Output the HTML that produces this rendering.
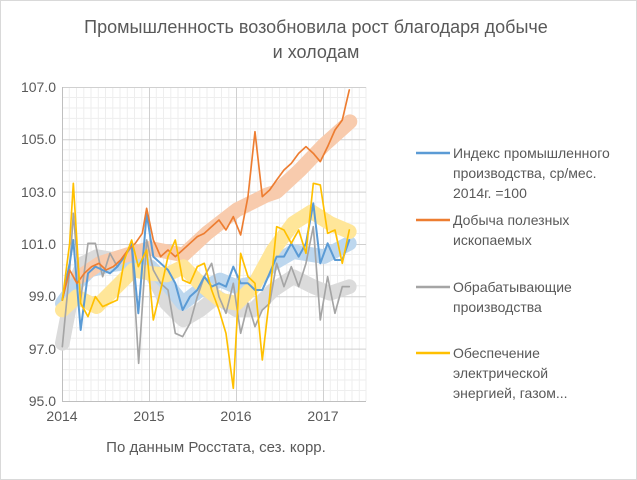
<!DOCTYPE html>
<html><head><meta charset="utf-8"><style>
body{margin:0;background:#fff;}
svg{display:block;font-family:"Liberation Sans","DejaVu Sans",sans-serif;}
</style></head><body>
<svg width="637" height="480" viewBox="0 0 637 480" xmlns="http://www.w3.org/2000/svg">
<rect x="0.5" y="0.5" width="636" height="479" fill="#fff" stroke="#d9d9d9"/>
<text x="316" y="33" font-size="18" fill="#595959" text-anchor="middle">Промышленность возобновила рост благодаря добыче</text>
<text x="316" y="58" font-size="18" fill="#595959" text-anchor="middle">и холодам</text>
<g id="grid" stroke="#eeeeee" stroke-width="1">
<path d="M69.3 87V401M76.5 87V401M83.8 87V401M91 87V401M98.3 87V401M105.5 87V401M112.8 87V401M120 87V401M127.3 87V401M134.5 87V401M141.8 87V401M156.3 87V401M163.5 87V401M170.8 87V401M178 87V401M185.3 87V401M192.5 87V401M199.8 87V401M207 87V401M214.3 87V401M221.5 87V401M228.8 87V401M243.3 87V401M250.5 87V401M257.8 87V401M265 87V401M272.3 87V401M279.5 87V401M286.8 87V401M294 87V401M301.3 87V401M308.5 87V401M315.8 87V401M330.3 87V401M337.5 87V401M344.8 87V401M352 87V401M359.3 87V401M366 87V401"/>
<path d="M62 97.5H366M62 108H366M62 118.4H366M62 128.9H366M62 149.8H366M62 160.3H366M62 170.8H366M62 181.2H366M62 202.1H366M62 212.6H366M62 223.1H366M62 233.5H366M62 254.5H366M62 264.9H366M62 275.4H366M62 285.8H366M62 306.8H366M62 317.2H366M62 327.7H366M62 338.2H366M62 359.1H366M62 369.6H366M62 380H366M62 390.5H366"/>
</g>
<g stroke="#d0d0d0" stroke-width="1">
<path d="M62 87.5H366M62 139.8H366M62 192.1H366M62 244.5H366M62 296.8H366M62 349.1H366"/>
<path d="M149.5 87V401M236.5 87V401M323.5 87V401"/>
</g>
<path d="M62.5 87V401M62 401.5H366" stroke="#bfbfbf" stroke-width="1"/>
<g font-size="14" fill="#595959" text-anchor="end">
<text x="56" y="92">107.0</text><text x="56" y="144">105.0</text><text x="56" y="197">103.0</text>
<text x="56" y="249">101.0</text><text x="56" y="301">99.0</text><text x="56" y="354">97.0</text><text x="56" y="406">95.0</text>
</g>
<g font-size="14" fill="#595959" text-anchor="middle">
<text x="62" y="421">2014</text><text x="149" y="421">2015</text><text x="236" y="421">2016</text><text x="323" y="421">2017</text>
</g>
<text x="216" y="452" font-size="15" fill="#595959" text-anchor="middle">По данным Росстата, сез. корр.</text>
<g transform="translate(0,70) scale(0.3333)" fill="none" stroke-linejoin="round" stroke-linecap="round">
<polyline stroke="#DBDBDB" stroke-width="44" points="187,820 220,650 250,580 290,560 350,570 420,560 460,620 500,700 550,750 600,720 650,680 710,720 760,720 820,660 880,620 940,650 990,670 1048,650"/>
<polyline stroke="#BDD7EE" stroke-width="44" points="187,700 230,640 270,600 330,585 400,575 450,590 500,640 548,700 600,660 660,630 710,650 760,640 820,580 880,545 972,560 1048,520"/>
<polyline stroke="#F8CBAD" stroke-width="44" points="240,620 300,580 380,555 450,535 550,555 620,490 710,420 800,375 830,365 900,300 972,225 1050,155"/>
<polyline stroke="#FFE699" stroke-width="44" points="187,720 230,680 290,710 350,650 400,600 450,610 500,615 550,590 600,640 660,690 710,700 760,650 820,540 880,460 935,425 990,460 1048,485"/>
<polyline stroke="#A5A5A5" stroke-width="5" points="187,830 209,600 220,430 242,690 264,520 286,520 308,620 330,550 352,590 373,560 395,530 416,880 440,510 460,600 482,640 504,660 526,790 548,800 570,760 592,680 613,620 635,580 657,680 678,730 700,640 722,790 744,700 765,770 787,720 809,700 830,580 852,650 874,590 896,650 918,580 940,470 961,750 983,620 1005,730 1027,650 1048,650"/>
<polyline stroke="#5B9BD5" stroke-width="6" points="187,690 209,580 220,510 242,780 264,610 286,590 308,600 330,610 352,590 373,560 395,520 415,730 440,430 460,560 482,580 504,600 526,640 548,720 570,680 592,660 613,620 635,650 657,640 678,650 700,590 722,640 744,640 765,660 787,660 809,610 830,560 852,560 874,520 896,560 918,520 940,400 961,580 983,520 1005,570 1027,570 1048,510"/>
<polyline stroke="#ED7D31" stroke-width="5" points="187,690 209,600 231,640 253,610 275,590 297,580 318,600 340,590 362,570 384,540 406,520 427,490 440,415 460,510 482,560 504,540 526,560 548,540 570,520 592,500 613,490 635,470 657,450 678,480 700,440 722,495 744,380 765,185 787,380 809,360 830,330 852,300 874,280 896,250 918,230 940,250 961,275 983,230 1005,180 1027,150 1048,60"/>
<polyline stroke="#FFC000" stroke-width="5" points="187,690 209,520 220,340 242,700 264,740 286,680 308,710 330,700 352,690 373,570 395,510 415,590 440,540 460,750 482,660 504,560 526,510 548,630 570,640 592,590 613,580 635,660 657,720 678,790 700,955 722,550 744,620 765,640 787,870 809,680 830,470 852,480 874,520 896,480 918,550 940,340 961,345 983,490 1005,480 1027,580 1048,480"/>
</g>
<g stroke-width="2.5">
<path d="M416 153H450" stroke="#5B9BD5"/><path d="M416 220H450" stroke="#ED7D31"/>
<path d="M416 287H450" stroke="#A5A5A5"/><path d="M416 353H450" stroke="#FFC000"/>
</g>
<g font-size="14" fill="#595959">
<text x="453" y="158">Индекс промышленного</text><text x="453" y="178">производства, ср/мес.</text><text x="453" y="198">2014г. =100</text>
<text x="453" y="225">Добыча полезных</text><text x="453" y="245">ископаемых</text>
<text x="453" y="292">Обрабатывающие</text><text x="453" y="312">производства</text>
<text x="453" y="358">Обеспечение</text><text x="453" y="378">электрической</text><text x="453" y="398">энергией, газом...</text>
</g>
</svg>
</body></html>
